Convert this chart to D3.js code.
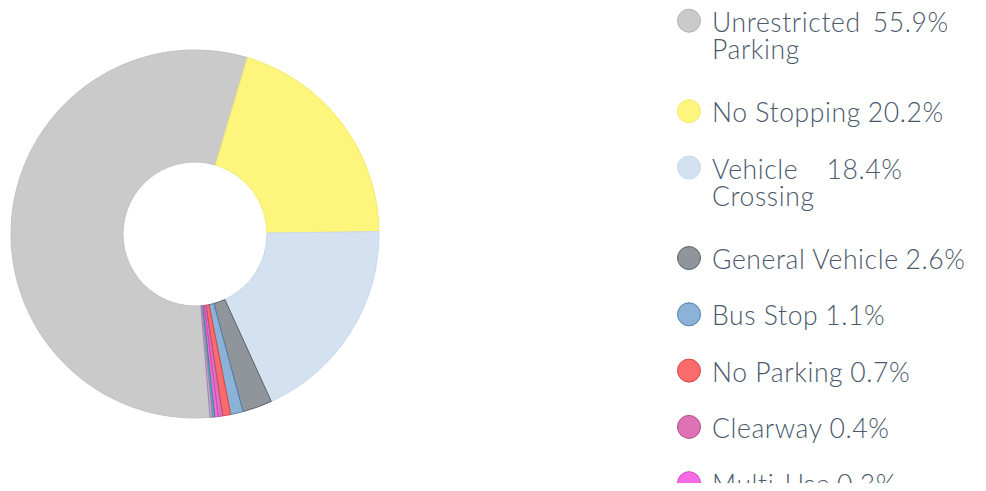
<!DOCTYPE html>
<html>
<head>
<meta charset="utf-8">
<script src="https://cdn.jsdelivr.net/npm/d3@7"></script>
<style>
  body { margin: 0; background: #fff; }
  svg { display: block; }
  .lbl { font-family: Lato, 'Open Sans', sans-serif; font-weight: 300; font-size: 26.5px; letter-spacing: 0.6px; fill: #4a596b; }
</style>
</head>
<body>
<div id="chart"></div>
<script>
// data (percent of total)
const categories = ["Unrestricted Parking", "No Stopping", "Vehicle Crossing", "General Vehicle",
  "Bus Stop", "No Parking", "Clearway", "Multi-Use", "Loading Zone", "Taxi Zone"];
const values = [55.9, 20.2, 18.4, 2.6, 1.1, 0.7, 0.4, 0.3, 0.2, 0.2];
// how the legend breaks the long names
const labelLines = [["Unrestricted", "Parking"], ["No Stopping"], ["Vehicle", "Crossing"], ["General Vehicle"],
  ["Bus Stop"], ["No Parking"], ["Clearway"], ["Multi-Use"], ["Loading Zone"], ["Taxi Zone"]];

const fills = ["#cacaca", "#fdf57c", "#d3e1f0", "#90959c", "#8db2d8", "#fc6b6b", "#df72b4", "#f76ae6", "#4fb5a8", "#c9a6d9"];
const strokes = ["#c2c2c2", "#f3ea70", "#c9d8ea", "#5b626c", "#4f80ae", "#d84848", "#b34c8c", "#d447c4", "#2e9286", "#a582b6"];

const width = 986, height = 491;
const cx = 195, cy = 234, outerR = 184, innerR = 72;

const svg = d3.select("#chart")
  .append("svg")
  .attr("width", width)
  .attr("height", height);

// donut
const pie = d3.pie()
  .sort(null)
  .value(d => d)
  .startAngle(-184.7 * Math.PI / 180)
  .endAngle(175.3 * Math.PI / 180);

const arc = d3.arc().innerRadius(innerR).outerRadius(outerR);

svg.append("g")
  .attr("transform", "translate(" + cx + "," + cy + ")")
  .selectAll("path")
  .data(pie(values))
  .enter()
  .append("path")
  .attr("d", arc)
  .style("fill", (d, i) => fills[i])
  .style("stroke", (d, i) => strokes[i])
  .style("stroke-width", 1);

// legend, cut off at the bottom like the original panel
svg.append("clipPath")
  .attr("id", "legend-clip")
  .append("rect")
  .attr("x", 640).attr("y", 0)
  .attr("width", 346).attr("height", 483);

const legend = svg.append("g").attr("clip-path", "url(#legend-clip)");

const circleX = 689, textX = 712, rowH = 56.3, lineH = 34.2;
let y = 20.7;
categories.forEach(function(c, i) {
  const row = legend.append("g").attr("transform", "translate(0," + y + ")");
  row.append("circle")
    .attr("cx", circleX).attr("cy", 0).attr("r", 11.5)
    .style("fill", fills[i])
    .style("stroke", i === 0 ? "#b3b3b3" : strokes[i])
    .style("stroke-width", 1);

  const lines = labelLines[i];
  let maxW = 0;
  lines.forEach(function(t, j) {
    const txt = row.append("text")
      .attr("class", "lbl")
      .attr("x", textX)
      .attr("y", 11 + j * 27)
      .text(t);
    maxW = Math.max(maxW, txt.node().getComputedTextLength());
  });
  row.append("text")
    .attr("class", "lbl")
    .attr("x", textX + maxW + (lines.length > 1 ? 12 : 7))
    .attr("y", 11)
    .text(values[i].toFixed(1) + "%");

  y += rowH + (lines.length - 1) * lineH;
});
</script>
</body>
</html>
